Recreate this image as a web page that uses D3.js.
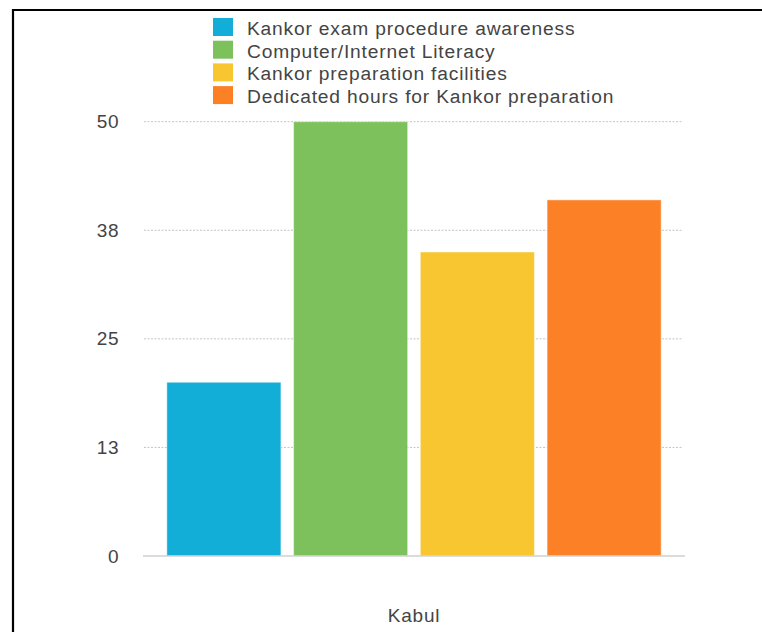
<!DOCTYPE html>
<html>
<head>
<meta charset="utf-8">
<script src="https://cdn.jsdelivr.net/npm/d3@7"></script>
<style>
  html, body { margin: 0; padding: 0; background: #fff; }
  svg { display: block; }
  text { font-family: "Liberation Sans", Arial, Helvetica, sans-serif; fill: #444; }
</style>
</head>
<body>
<svg id="chart" width="762" height="632"></svg>
<script>
const categories = ["Kabul"];
const seriesNames = [
  "Kankor exam procedure awareness",
  "Computer/Internet Literacy",
  "Kankor preparation facilities",
  "Dedicated hours for Kankor preparation"
];
const seriesColors = ["#12AED8", "#7DC15C", "#F7C631", "#FC8126"];
const kabulValues = [20, 50, 35, 41];
const tickValues = [0, 12.5, 25, 37.5, 50];

const svg = d3.select("#chart");

// frame
svg.append("line").attr("x1", 13).attr("x2", 762).attr("y1", 10).attr("y2", 10)
  .attr("stroke", "#000").attr("stroke-width", 2.2);
svg.append("line").attr("x1", 13).attr("x2", 13).attr("y1", 9).attr("y2", 632)
  .attr("stroke", "#000").attr("stroke-width", 2.2);

const y = d3.scaleLinear().domain([0, 50]).range([556, 121.7]);
const x = d3.scaleBand().domain(categories).range([143, 685]).padding(0);
const xs = d3.scaleBand().domain(seriesNames)
  .range([17.5, x.bandwidth() - 17.5]).paddingInner(0.1).paddingOuter(0.05);

// grid
const grid = svg.append("g");
grid.selectAll("line").data(tickValues.filter(d => d > 0)).join("line")
  .attr("x1", 144).attr("x2", 682)
  .attr("y1", d => y(d)).attr("y2", d => y(d))
  .attr("stroke", "#c4c4c4").attr("stroke-width", 1)
  .attr("stroke-dasharray", "2,1.5");

// y axis labels
const yAxis = d3.axisLeft(y).tickValues(tickValues)
  .tickFormat(d => String(Math.round(d))).tickSize(0).tickPadding(0);
const ya = svg.append("g").attr("transform", "translate(119,0)").call(yAxis);
ya.select(".domain").remove();
ya.selectAll("text").attr("font-size", 19).attr("fill", "#444")
  .attr("letter-spacing", "0.5px")
  .attr("font-family", "Liberation Sans, Arial, sans-serif");

// bars
const groups = svg.append("g").selectAll("g").data(categories).join("g")
  .attr("transform", d => `translate(${x(d)},0)`);
groups.selectAll("rect")
  .data(() => seriesNames.map((s, i) => ({ s, v: kabulValues[i], c: seriesColors[i] })))
  .join("rect")
  .attr("x", d => xs(d.s))
  .attr("width", xs.bandwidth())
  .attr("y", d => y(d.v))
  .attr("height", d => y(0) - y(d.v))
  .attr("fill", d => d.c)
  .attr("stroke", "rgba(255,255,255,0.45)")
  .attr("stroke-width", 1);

// baseline
svg.append("line").attr("x1", 143).attr("x2", 685)
  .attr("y1", y(0)).attr("y2", y(0))
  .attr("stroke", "#d0d0d0").attr("stroke-width", 1.5);

// x axis label
const xAxis = d3.axisBottom(x).tickSize(0).tickPadding(0);
const xa = svg.append("g").attr("transform", "translate(0,608)").call(xAxis);
xa.select(".domain").remove();
xa.selectAll("text").attr("font-size", 19).attr("fill", "#444")
  .attr("letter-spacing", "0.8px")
  .attr("font-family", "Liberation Sans, Arial, sans-serif");

// legend
const legend = svg.append("g").attr("transform", "translate(213,18)");
const items = legend.selectAll("g").data(seriesNames).join("g")
  .attr("transform", (d, i) => `translate(0,${i * 22.7})`);
items.append("rect").attr("width", 20).attr("height", 18)
  .attr("fill", (d, i) => seriesColors[i]);
items.append("text").attr("x", 34).attr("y", 17)
  .attr("font-size", 19.2).attr("letter-spacing", "0.82px").text(d => d);
</script>
</body>
</html>
